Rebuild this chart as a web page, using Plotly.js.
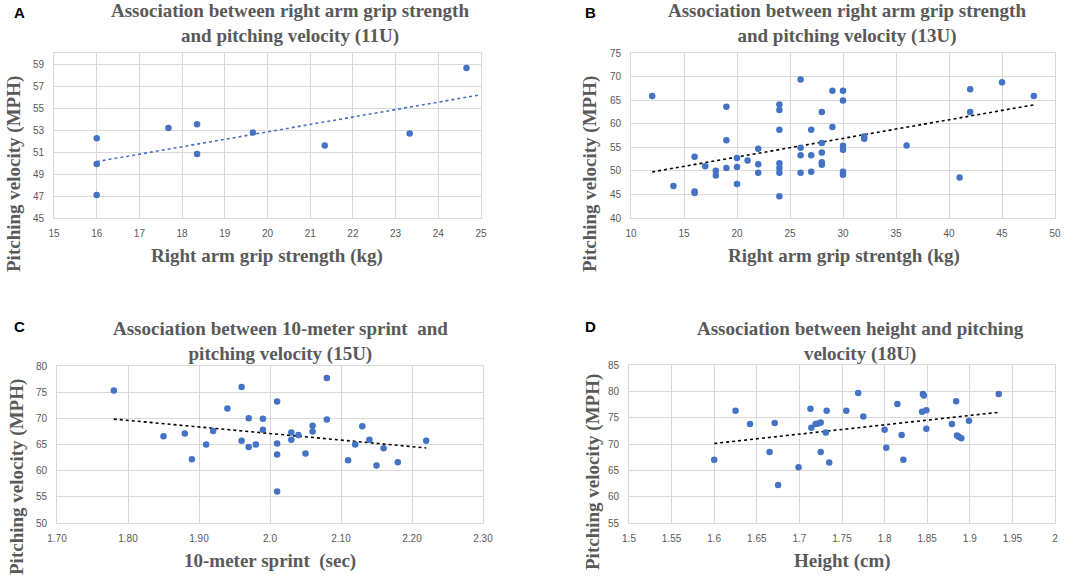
<!DOCTYPE html>
<html>
<head>
<meta charset="utf-8">
<script src="https://cdn.plot.ly/plotly-3.0.1.min.js"></script>
<style>html,body{margin:0;padding:0;background:#fff;}#chart{width:1084px;height:582px;}</style>
</head>
<body>
<div id="chart"></div>
<script>
// Panel A: 11U, right arm grip strength (kg) vs pitching velocity (MPH)
const gripA = [16, 16, 16, 17.68, 18.35, 18.35, 19.66, 21.34, 23.33, 24.66];
const veloA = [52.26, 49.9, 47.09, 53.19, 53.53, 50.81, 52.77, 51.59, 52.68, 58.64];

// Panel B: 13U, right arm grip strength (kg) vs pitching velocity (MPH)
const gripB = [12, 14, 16, 16, 16, 17, 18, 18, 19, 19, 19, 20, 20, 20, 21, 22, 22, 22,
  24, 24, 24, 24, 24, 24, 24, 26, 26, 26, 26, 27, 27, 27, 28, 28, 28, 28, 28, 29, 29,
  30, 30, 30, 30, 30, 30, 32, 32, 36, 41, 42, 42, 45, 48];
const veloB = [65.9, 46.8, 53.0, 45.6, 45.3, 51.0, 50.0, 49.0, 63.6, 56.5, 50.6, 52.75, 50.8, 47.2, 52.2, 54.7, 51.4, 49.6,
  64.1, 62.9, 58.7, 51.6, 50.6, 49.6, 44.6, 69.4, 54.9, 53.3, 49.6, 58.7, 53.3, 49.8, 62.5, 55.9, 53.9, 51.8, 51.3, 67.0, 59.3,
  67.0, 64.9, 55.3, 54.5, 49.8, 49.2, 57.3, 56.8, 55.4, 48.6, 67.3, 62.5, 68.8, 65.9];

// Panel C: 15U, 10-meter sprint (sec) vs pitching velocity (MPH)
const sprintC = [1.78, 1.85, 1.88, 1.89, 1.91, 1.92, 1.94, 1.96, 1.96, 1.97, 1.97, 1.98, 1.99, 1.99,
  2.01, 2.01, 2.01, 2.01, 2.03, 2.03, 2.04, 2.05, 2.06, 2.06, 2.08, 2.08, 2.11, 2.12, 2.13, 2.14,
  2.15, 2.16, 2.18, 2.22];
const veloC = [75.3, 66.6, 67.1, 62.2, 65.0, 67.6, 71.9, 76.0, 65.7, 70.0, 64.5, 65.0, 69.9, 67.8,
  73.2, 65.2, 63.1, 56.0, 67.3, 65.9, 66.8, 63.3, 68.6, 67.5, 77.7, 69.8, 62.0, 65.0, 68.5, 65.9,
  61.0, 64.3, 61.6, 65.7];

// Panel D: 18U, height vs pitching velocity (MPH)
const heightD = [1.600, 1.625, 1.642, 1.665, 1.671, 1.675, 1.699, 1.713, 1.714, 1.719, 1.722, 1.725,
  1.725, 1.731, 1.732, 1.735, 1.755, 1.769, 1.775, 1.800, 1.802, 1.815, 1.820, 1.822, 1.844,
  1.845, 1.846, 1.849, 1.849, 1.879, 1.884, 1.885, 1.887, 1.890, 1.899, 1.934];
const veloD = [67.0, 76.3, 73.8, 68.5, 74.0, 62.2, 65.6, 76.7, 73.1, 73.8, 73.9, 74.1,
  68.5, 72.2, 76.3, 66.5, 76.3, 79.7, 75.2, 72.7, 69.3, 77.6, 71.7, 67.0, 76.1,
  79.5, 79.2, 76.4, 72.9, 73.8, 78.1, 71.6, 71.4, 71.1, 74.4, 79.5];

// Tick labels
const ticksA_y = [45, 47, 49, 51, 53, 55, 57, 59];
const ticksC_x = [1.7, 1.8, 1.9, 2.0, 2.1, 2.2, 2.3];
const labelsC_x = ["1.70", "1.80", "1.90", "2.0", "2.10", "2.20", "2.30"];
const ticksD_x = [1.5, 1.55, 1.6, 1.65, 1.7, 1.75, 1.8, 1.85, 1.9, 1.95, 2];
const labelsD_x = ["1.5", "1.55", "1.6", "1.65", "1.7", "1.75", "1.8", "1.85", "1.9", "1.95", "2"];

// Titles
const titles = [
  "Association between right arm grip strength<br>and pitching velocity (11U)",
  "Association between right arm grip strength<br>and pitching velocity (13U)",
  "Association between 10-meter sprint  and<br>pitching velocity (15U)",
  "Association between height and pitching<br>velocity (18U)"
];
const xTitles = ["Right arm grip strength (kg)", "Right arm grip strentgh (kg)", "10-meter sprint  (sec)", "Height (cm)"];
const yTitle = "Pitching velocity (MPH)";
const panelLetters = ["A", "B", "C", "D"];

function fit(xs, ys) {
  const n = xs.length;
  const mx = xs.reduce((a, b) => a + b, 0) / n;
  const my = ys.reduce((a, b) => a + b, 0) / n;
  let sxy = 0, sxx = 0;
  for (let i = 0; i < n; i++) { sxy += (xs[i] - mx) * (ys[i] - my); sxx += (xs[i] - mx) * (xs[i] - mx); }
  const b = sxy / sxx;
  return { a: my - b * mx, b: b };
}
function trend(xs, ys, x0, x1) {
  const f = fit(xs, ys);
  return { x: [x0, x1], y: [f.a + f.b * x0, f.a + f.b * x1] };
}

const W = 1084, H = 582;
const px = v => v / W;
const py = v => 1 - v / H;

const blue = "#4472C4";
const gray = "#595959";
const grid = "#d9d9d9";
const serif = "Liberation Serif, Times New Roman, serif";
const sans = "Liberation Sans, Arial, sans-serif";

const sets = [
  { x: gripA, y: veloA, tx: [Math.min(...gripA), 25], lc: blue },
  { x: gripB, y: veloB, tx: [Math.min(...gripB), Math.max(...gripB)], lc: "#000" },
  { x: sprintC, y: veloC, tx: [Math.min(...sprintC), Math.max(...sprintC)], lc: "#000" },
  { x: heightD, y: veloD, tx: [Math.min(...heightD), Math.max(...heightD)], lc: "#000" }
];

const traces = [];
sets.forEach((s, i) => {
  const xa = i === 0 ? "x" : "x" + (i + 1);
  const ya = i === 0 ? "y" : "y" + (i + 1);
  const t = trend(s.x, s.y, s.tx[0], s.tx[1]);
  traces.push({ x: t.x, y: t.y, xaxis: xa, yaxis: ya, type: "scatter", mode: "lines",
    line: { color: s.lc, width: 1.6, dash: "dot" }, hoverinfo: "skip", showlegend: false });
  traces.push({ x: s.x, y: s.y, xaxis: xa, yaxis: ya, type: "scatter", mode: "markers",
    marker: { color: blue, size: 6.5 }, showlegend: false });
});

function axis(domain, range, extra, anchor) {
  return Object.assign({
    domain: domain, range: range, anchor: anchor,
    showgrid: true, gridcolor: grid, gridwidth: 1, zeroline: false,
    showline: true, linecolor: grid, linewidth: 1, mirror: true,
    ticks: "", tickfont: { family: sans, size: 10, color: gray }, fixedrange: true
  }, extra);
}

// plot areas in pixels
const boxes = [
  { l: 54, r: 481, t: 53, b: 218 },
  { l: 631, r: 1055, t: 53, b: 218 },
  { l: 57, r: 483, t: 366, b: 523 },
  { l: 629, r: 1055, t: 365, b: 523 }
];
const dom = boxes.map(b => ({ x: [px(b.l), px(b.r)], y: [py(b.b), py(b.t)] }));

const layout = {
  width: W, height: H,
  margin: { l: 0, r: 0, t: 0, b: 0 },
  paper_bgcolor: "#fff", plot_bgcolor: "#fff",
  showlegend: false,
  xaxis: axis(dom[0].x, [15, 25], { dtick: 1, tick0: 15, ticklabelstandoff: 6 }, "y"),
  yaxis: axis(dom[0].y, [45, 60], { tickvals: ticksA_y, ticklabelstandoff: 7 }, "x"),
  xaxis2: axis(dom[1].x, [10, 50], { dtick: 5, tick0: 10, ticklabelstandoff: 6 }, "y2"),
  yaxis2: axis(dom[1].y, [40, 75], { dtick: 5, tick0: 40, ticklabelstandoff: 7 }, "x2"),
  xaxis3: axis(dom[2].x, [1.7, 2.3], { tickvals: ticksC_x, ticktext: labelsC_x, ticklabelstandoff: 6 }, "y3"),
  yaxis3: axis(dom[2].y, [50, 80], { dtick: 5, tick0: 50, ticklabelstandoff: 7 }, "x3"),
  xaxis4: axis(dom[3].x, [1.5, 2], { tickvals: ticksD_x, ticktext: labelsD_x, ticklabelstandoff: 6 }, "y4"),
  yaxis4: axis(dom[3].y, [55, 85], { dtick: 5, tick0: 55, ticklabelstandoff: 7 }, "x4"),
  annotations: []
};

const titlePos = [[290, 24], [847, 24], [280, 341], [860, 341]];
const xTitlePos = [[267, 256], [844, 256], [270, 561], [842, 561]];
const yTitlePos = [[14, 174], [590, 174], [17, 477], [593, 472]];
const letterPos = [[19, 12], [590, 12], [19, 326], [590, 326]];

for (let i = 0; i < 4; i++) {
  layout.annotations.push({ text: "<b>" + titles[i] + "</b>", xref: "paper", yref: "paper",
    x: px(titlePos[i][0]), y: py(titlePos[i][1]), xanchor: "center", yanchor: "middle",
    borderpad: 0, showarrow: false, font: { family: serif, size: 19, color: gray } });
  layout.annotations.push({ text: "<b>" + xTitles[i] + "</b>", xref: "paper", yref: "paper",
    x: px(xTitlePos[i][0]), y: py(xTitlePos[i][1]), xanchor: "center", yanchor: "middle",
    showarrow: false, font: { family: serif, size: 19, color: gray } });
  layout.annotations.push({ text: "<b>" + yTitle + "</b>", xref: "paper", yref: "paper",
    x: px(yTitlePos[i][0]), y: py(yTitlePos[i][1]), xanchor: "center", yanchor: "middle",
    borderpad: 0, textangle: -90, showarrow: false, font: { family: serif, size: 19, color: gray } });
  layout.annotations.push({ text: "<b>" + panelLetters[i] + "</b>", xref: "paper", yref: "paper",
    x: px(letterPos[i][0]), y: py(letterPos[i][1]), xanchor: "center", yanchor: "middle",
    showarrow: false, font: { family: sans, size: 15, color: "#000" } });
}

Plotly.newPlot("chart", traces, layout, { displayModeBar: false, staticPlot: true });
</script>
</body>
</html>
